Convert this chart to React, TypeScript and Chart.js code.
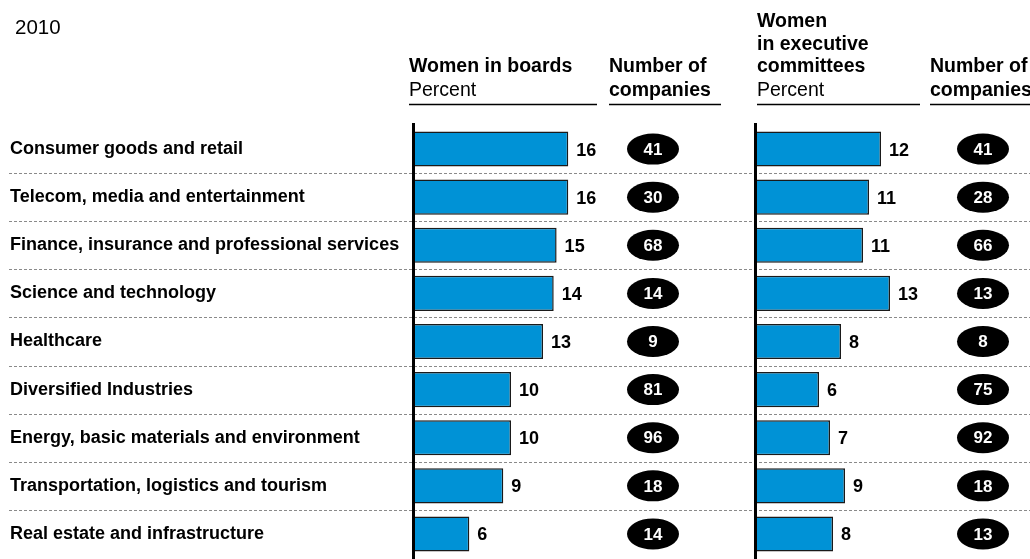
import React, { useEffect, useRef } from "react";
import { Chart, registerables } from "chart.js";

Chart.register(...registerables);

const yearLabel = "2010";

const categories = [
  "Consumer goods and retail",
  "Telecom, media and entertainment",
  "Finance, insurance and professional services",
  "Science and technology",
  "Healthcare",
  "Diversified Industries",
  "Energy, basic materials and environment",
  "Transportation, logistics and tourism",
  "Real estate and infrastructure",
];

// Women in boards, percent (estimated unrounded values; printed rounded)
const boardsPct = [15.8, 15.8, 14.6, 14.3, 13.2, 9.9, 9.9, 9.1, 5.6];
const boardsCompanies = [41, 30, 68, 14, 9, 81, 96, 18, 14];

// Women in executive committees, percent
const execPct = [12.4, 11.2, 10.6, 13.3, 8.4, 6.2, 7.3, 8.8, 7.6];
const execCompanies = [41, 28, 66, 13, 8, 75, 92, 18, 13];

const FONT = '"Liberation Sans", Arial, Helvetica, sans-serif';
const BLUE = "#0092d6";

export default function App() {
  const ref = useRef<HTMLCanvasElement>(null);

  useEffect(() => {
    const canvas = ref.current;
    if (!canvas) return;

    const panelPlugin = {
      id: "panelPlugin",
      afterLayout(chart: any) {
        const place = (id: string, left: number, pxPerUnit: number) => {
          const s = chart.scales[id];
          const range = s.max - s.min;
          s.left = left;
          s.right = left + pxPerUnit * range;
          s.width = s.right - s.left;
          s.configure();
        };
        place("x", 415, 9.7);
        place("x2", 757, 10);
      },
      beforeDatasetsDraw(chart: any) {
        const ctx = chart.ctx;
        const y = chart.scales.y;
        ctx.save();
        // dashed separators
        ctx.strokeStyle = "#8a8a8a";
        ctx.lineWidth = 1;
        ctx.setLineDash([3, 2]);
        for (let i = 0; i < categories.length - 1; i++) {
          const yy = Math.round((y.getPixelForValue(i) + y.getPixelForValue(i + 1)) / 2) + 0.5;
          ctx.beginPath();
          ctx.moveTo(9, yy);
          ctx.lineTo(1030, yy);
          ctx.stroke();
        }
        ctx.setLineDash([]);
        // axis lines
        ctx.strokeStyle = "#000";
        ctx.lineWidth = 3;
        for (const id of ["x", "x2"]) {
          const x0 = chart.scales[id].getPixelForValue(0) - 1.5;
          ctx.beginPath();
          ctx.moveTo(x0, 123);
          ctx.lineTo(x0, 559);
          ctx.stroke();
        }
        ctx.restore();
      },
      afterDatasetsDraw(chart: any) {
        const ctx = chart.ctx;
        ctx.save();
        // value labels
        ctx.fillStyle = "#000";
        ctx.font = `bold 18px ${FONT}`;
        ctx.textAlign = "left";
        ctx.textBaseline = "middle";
        chart.data.datasets.forEach((ds: any, di: number) => {
          const meta = chart.getDatasetMeta(di);
          meta.data.forEach((el: any, i: number) => {
            ctx.fillText(String(Math.round(ds.data[i])), el.x + 8, el.y + 1.5);
          });
        });
        // company count ellipses
        const y = chart.scales.y;
        const drawPills = (cx: number, values: number[]) => {
          values.forEach((v, i) => {
            const cy = y.getPixelForValue(i);
            ctx.fillStyle = "#000";
            ctx.beginPath();
            ctx.ellipse(cx, cy, 26, 15.5, 0, 0, Math.PI * 2);
            ctx.fill();
            ctx.fillStyle = "#fff";
            ctx.font = `bold 17px ${FONT}`;
            ctx.textAlign = "center";
            ctx.textBaseline = "middle";
            ctx.fillText(String(v), cx, cy + 1);
          });
        };
        drawPills(653, boardsCompanies);
        drawPills(983, execCompanies);

        // headings
        ctx.fillStyle = "#000";
        ctx.textAlign = "left";
        ctx.textBaseline = "alphabetic";
        ctx.font = `20.5px ${FONT}`;
        ctx.fillText(yearLabel, 15, 34);

        const bold = `bold 19.5px ${FONT}`;
        const reg = `19.5px ${FONT}`;
        const lines: [string, number, number, string][] = [
          ["Women in boards", 409, 72, bold],
          ["Percent", 409, 96, reg],
          ["Number of", 609, 72, bold],
          ["companies", 609, 96, bold],
          ["Women", 757, 27, bold],
          ["in executive", 757, 49.5, bold],
          ["committees", 757, 72, bold],
          ["Percent", 757, 96, reg],
          ["Number of", 930, 72, bold],
          ["companies", 930, 96, bold],
        ];
        lines.forEach(([t, x, yy, f]) => {
          ctx.font = f;
          ctx.fillText(t, x, yy);
        });
        ctx.strokeStyle = "#000";
        ctx.lineWidth = 1.5;
        const rules: [number, number][] = [
          [409, 597],
          [609, 721],
          [757, 920],
          [930, 1030],
        ];
        rules.forEach(([a, b]) => {
          ctx.beginPath();
          ctx.moveTo(a, 104.5);
          ctx.lineTo(b, 104.5);
          ctx.stroke();
        });
        ctx.restore();
      },
    };

    const common = {
      backgroundColor: BLUE,
      borderColor: "#1a1a1a",
      borderWidth: 1.5,
      borderSkipped: "start",
      grouped: false,
      categoryPercentage: 0.73,
      barPercentage: 1,
    };

    const chart = new Chart(canvas, {
      type: "bar",
      data: {
        labels: categories,
        datasets: [
          { ...common, label: "Women in boards", data: boardsPct, xAxisID: "x", yAxisID: "y" } as any,
          { ...common, label: "Women in executive committees", data: execPct, xAxisID: "x2", yAxisID: "y" } as any,
        ],
      },
      options: {
        indexAxis: "y",
        animation: false,
        responsive: false,
        devicePixelRatio: 1,
        layout: { padding: { left: 10, top: 125, bottom: 1, right: 0 } },
        plugins: {
          legend: { display: false },
          tooltip: { enabled: false },
        },
        scales: {
          x: { type: "linear", min: 0, max: 20, display: false, position: "bottom" },
          x2: { type: "linear", min: 0, max: 20, display: false, position: "bottom" },
          y: {
            type: "category",
            position: "left",
            grid: { display: false },
            border: { display: false },
            afterFit(scale: any) {
              scale.paddingTop = 0;
              scale.paddingBottom = 0;
            },
            ticks: {
              color: "#000",
              font: { family: FONT, size: 18, weight: "bold" },
              crossAlign: "far",
              padding: 4,
              autoSkip: false,
            },
          },
        },
      } as any,
      plugins: [panelPlugin],
    });

    return () => chart.destroy();
  }, []);

  return (
    <div style={{ position: "fixed", left: 0, top: 0, width: 1030, height: 559, background: "#fff" }}>
      <canvas ref={ref} width={1030} height={559} style={{ display: "block" }} />
    </div>
  );
}
